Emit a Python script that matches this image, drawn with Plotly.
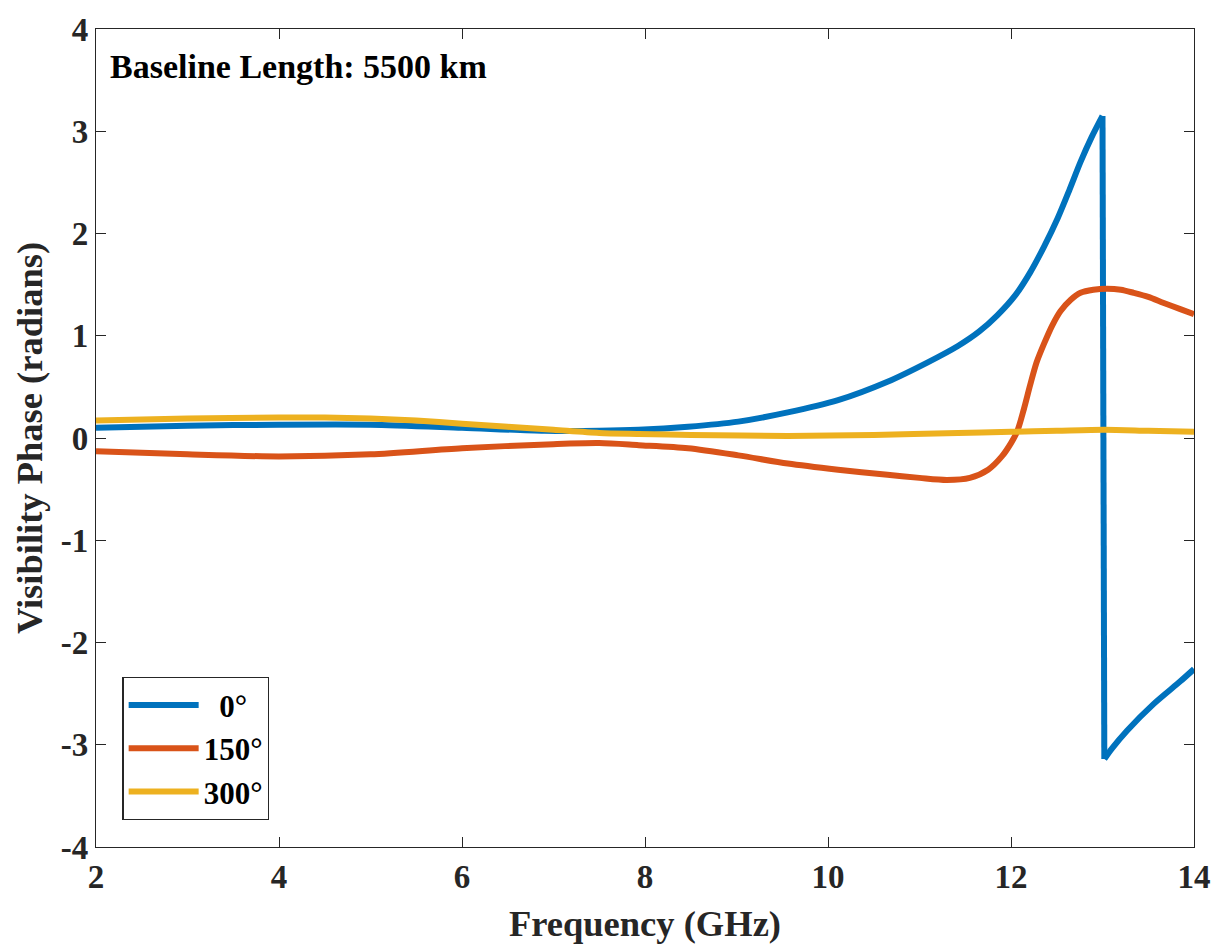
import plotly.graph_objects as go

# ---- data ----
freq_0 = [2, 3, 4, 5, 6, 6.9, 7.5, 7.93, 8.47, 9.02, 9.56, 10.11, 10.65, 11.09, 11.42,
          11.65, 11.85, 12.05, 12.21, 12.36, 12.51, 12.64, 12.76, 12.88, 13.0,
          13.02, 13.1, 13.27, 13.56, 13.85, 14]
phase_0 = [0.10, 0.12, 0.13, 0.13, 0.10, 0.07, 0.07, 0.08, 0.11, 0.16, 0.25, 0.37, 0.55, 0.74, 0.90,
           1.04, 1.20, 1.40, 1.62, 1.87, 2.15, 2.43, 2.70, 2.94, 3.15,
           -3.14, -3.04, -2.86, -2.60, -2.38, -2.26]
wrap_index = 25  # first sample after the phase wrap at ~13 GHz

freq_150 = [2, 3, 4, 5, 6, 7, 7.5, 7.93, 8.47, 9.02, 9.56, 10.11, 10.65, 11.0, 11.3,
            11.55, 11.75, 11.9, 12.0, 12.07, 12.14, 12.21, 12.28, 12.36, 12.45, 12.54,
            12.65, 12.76, 12.9, 13.05, 13.2, 13.34, 13.5, 13.67, 13.85, 14]
phase_150 = [-0.13, -0.16, -0.18, -0.16, -0.10, -0.06, -0.05, -0.07, -0.10, -0.17, -0.25, -0.31, -0.36, -0.39, -0.41,
             -0.39, -0.31, -0.18, -0.05, 0.07, 0.28, 0.52, 0.74, 0.92, 1.10, 1.24,
             1.35, 1.42, 1.45, 1.46, 1.45, 1.42, 1.38, 1.32, 1.26, 1.21]

freq_300 = [2, 3, 4, 4.5, 5, 5.5, 6, 6.5, 7, 7.5, 7.93, 8.5, 9.56, 10.5, 11.42, 12, 12.5, 13.02, 13.5, 14]
phase_300 = [0.17, 0.19, 0.20, 0.20, 0.19, 0.17, 0.14, 0.11, 0.08, 0.05, 0.04, 0.03, 0.02, 0.03, 0.05, 0.06, 0.07, 0.08, 0.07, 0.06]

series_names = ["  0°", "150°", "300°"]
colors = ["#0072BD", "#D95319", "#EDB120"]

x_ticks = [2, 4, 6, 8, 10, 12, 14]
y_ticks = [-4, -3, -2, -1, 0, 1, 2, 3, 4]

FONT = "Liberation Serif"
AX = "#262626"
LW = 6

fig = go.Figure()

# 0° series: smooth pieces either side of the phase wrap, joined by the wrap itself
fig.add_trace(go.Scatter(x=freq_0[:wrap_index], y=phase_0[:wrap_index], mode="lines",
                         name="<b>" + series_names[0] + "</b>", legendgroup="a",
                         line=dict(color=colors[0], width=LW, shape="spline", smoothing=0.8)))
fig.add_trace(go.Scatter(x=freq_0[wrap_index - 1:wrap_index + 1], y=phase_0[wrap_index - 1:wrap_index + 1],
                         mode="lines", legendgroup="a", showlegend=False,
                         line=dict(color=colors[0], width=LW)))
fig.add_trace(go.Scatter(x=freq_0[wrap_index:], y=phase_0[wrap_index:], mode="lines",
                         legendgroup="a", showlegend=False,
                         line=dict(color=colors[0], width=LW, shape="spline", smoothing=0.8)))

for xs, ys, name, c, g in zip([freq_150, freq_300], [phase_150, phase_300],
                              series_names[1:], colors[1:], ["b", "c"]):
    fig.add_trace(go.Scatter(x=xs, y=ys, mode="lines", name="<b>" + name + "</b>", legendgroup=g,
                             line=dict(color=c, width=LW, shape="spline", smoothing=0.8)))

axis_common = dict(showline=True, linecolor=AX, linewidth=1.3, mirror="ticks",
                   ticks="inside", ticklen=10, tickwidth=1.3, tickcolor=AX,
                   showgrid=False, zeroline=False,
                   tickfont=dict(family=FONT, size=33, color=AX, weight="bold"))

fig.update_layout(
    width=1223, height=948,
    margin=dict(l=96, r=26, t=22, b=101),
    paper_bgcolor="white", plot_bgcolor="white",
    font=dict(family=FONT, color=AX),
    xaxis=dict(range=[2, 14], tickvals=x_ticks, ticktext=[str(v) for v in x_ticks], **axis_common,
               title=dict(text="<b>Frequency (GHz)</b>", font=dict(family=FONT, size=36.5, color=AX),
                          standoff=16)),
    yaxis=dict(range=[-4, 4], tickvals=y_ticks, ticktext=[str(v) for v in y_ticks], **axis_common,
               title=dict(text="<b>Visibility Phase (radians)</b>", font=dict(family=FONT, size=36.5, color=AX),
                          standoff=6)),
    legend=dict(x=0.024, y=0.033, xanchor="left", yanchor="bottom",
                bgcolor="white", bordercolor=AX, borderwidth=1.3,
                font=dict(family=FONT, size=31, color="black"),
                tracegroupgap=0, itemwidth=70),
    showlegend=True,
)

fig.add_annotation(text="<b>Baseline Length: 5500 km</b>", xref="paper", yref="paper",
                   x=0.011, y=0.954, xanchor="left", yanchor="middle", showarrow=False,
                   font=dict(family=FONT, size=34, color="black"))

fig.write_html("out.html")
